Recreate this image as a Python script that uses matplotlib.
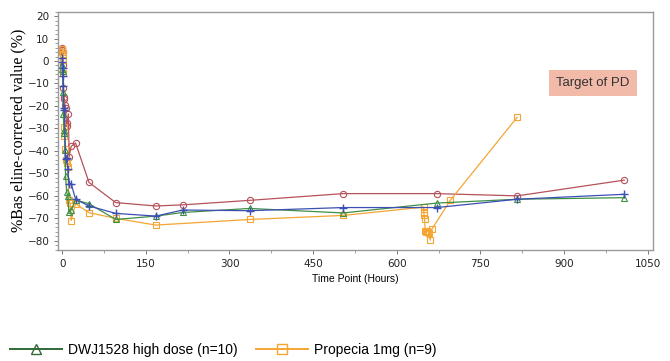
import numpy as np
import matplotlib.pyplot as plt
from matplotlib.lines import Line2D
from matplotlib.ticker import MultipleLocator

# series data (hours, % baseline-corrected)
red_t = [0, 0.5, 1, 1.5, 2, 3, 4, 5, 6, 8, 9, 11, 12.5, 16, 24, 48, 96, 168, 216, 336, 504, 672, 816, 1008]
red_v = [6, 5, 4, -2, -12, -16, -17, -19.5, -21, -29, -27.5, -23.5, -42.5, -38, -36.5, -54, -63, -64.5, -64, -62, -59, -59, -60, -53]

blue_t = [0, 0.5, 1, 1.5, 2, 3, 4, 6, 8, 10, 12, 16, 24, 48, 96, 168, 216, 336, 504, 672, 816, 1008]
blue_v = [1.5, -0.5, -3, -6.5, -11, -21, -22, -43.5, -43, -48, -54.5, -54.5, -61.5, -64.5, -67.8, -69, -66.3, -66.6, -65.2, -65.2, -61.5, -59.3]

green_t = [0, 0.5, 1, 1.5, 2, 3, 4, 5, 6, 8, 10, 12, 16, 24, 48, 96, 168, 216, 336, 504, 672, 816, 1008]
green_v = [-2, -3.5, -4.3, -14, -23.6, -30.5, -32, -39.5, -51, -58.3, -60, -67, -66.3, -61.8, -63.5, -70.5, -69, -67.4, -65.6, -67.6, -63.2, -61.5, -60.8]

orange_t = [0, 0.5, 1, 1.5, 2, 3, 4, 5, 6, 8, 10, 12, 14, 16, 24, 48, 96, 168, 336, 504,
            648, 648.5, 649, 650, 651, 652, 654, 656, 658, 660, 663, 696, 816]
orange_v = [5.5, 4, 3, 0.5, -5.5, -29.5, -33.5, -39, -44, -45.5, -47, -62, -63, -71, -63.5, -67.5, -70, -73, -70.5, -68.7,
            -65, -67, -68.7, -70.5, -75.5, -76, -75.5, -76, -76.5, -79.7, -74.8, -62, -25]

legend_labels = ["DWJ1528 high dose (n=10)", "Propecia 1mg (n=9)"]

c_red = "#b5525a"
c_blue = "#3d4fb5"
c_green = "#3f8f45"
c_green_leg = "#2f6b36"
c_orange = "#f5a533"

fig = plt.figure(figsize=(6.7, 3.61), dpi=100)
ax = fig.add_axes([0.087, 0.308, 0.888, 0.66])

ms = 4.5
ax.plot(red_t, red_v, color=c_red, lw=0.9, marker='o', ms=ms, mfc='none', mew=0.8)
ax.plot(orange_t, orange_v, color=c_orange, lw=0.9, marker='s', ms=ms, mfc='none', mew=0.8)
ax.plot(green_t, green_v, color=c_green, lw=0.9, marker='^', ms=ms, mfc='none', mew=0.8)
ax.plot(blue_t, blue_v, color=c_blue, lw=0.9, marker='+', ms=ms + 1, mew=1.0)

ax.set_xlim(-7, 1060)
ax.set_ylim(-84, 22)
ax.set_xticks(np.arange(0, 1051, 150))
ax.set_yticks(np.arange(-80, 21, 10))
ax.xaxis.set_minor_locator(MultipleLocator(75))
ax.yaxis.set_minor_locator(MultipleLocator(2))
ax.tick_params(labelsize=7.5, colors='#222222', length=3, width=0.7, color='#777777')
ax.tick_params(which='minor', length=2, width=0.5, color='#777777')
for s in ax.spines.values():
    s.set_color('#9a9a9a')
    s.set_linewidth(1.0)

ax.set_xlabel("Time Point (Hours)", fontsize=7.5, family='Liberation Sans', labelpad=4)
ax.set_ylabel("%Bas eline-corrected value (%)", fontsize=11.5, family='Liberation Serif', labelpad=1)

ax.text(0.96, 0.7, "Target of PD", transform=ax.transAxes, ha='right', va='center',
        fontsize=9.5, color='#333333', family='Liberation Sans',
        bbox=dict(boxstyle='square,pad=0.55', fc='#f2bba9', ec='none'))

handles = [Line2D([], [], color=c_green_leg, lw=1.4, marker='^', ms=7, mfc='none', mew=1.0),
           Line2D([], [], color=c_orange, lw=1.4, marker='s', ms=7, mfc='none', mew=1.0)]
fig.legend(handles, legend_labels, loc='center left', bbox_to_anchor=(-0.004, 0.03), ncol=2,
           frameon=False, handlelength=3.75, columnspacing=1.3, handletextpad=0.45,
           prop={'family': 'Liberation Sans', 'size': 10})

fig.savefig("out.png", dpi=100)
